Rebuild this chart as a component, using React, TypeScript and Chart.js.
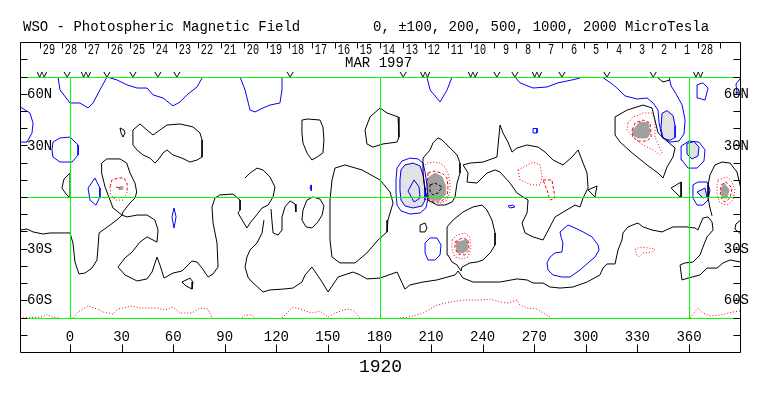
import React, { useEffect, useRef } from 'react';
import { Chart, registerables } from 'chart.js';

Chart.register(...registerables);

type P = [number, number];

// ---------- texts & ticks ----------
const titleLeft = 'WSO - Photospheric Magnetic Field';
const titleRight = '0, \u00b1100, 200, 500, 1000, 2000 MicroTesla';
const rotationLabel = '1920';
const monthLabel = 'MAR 1997';
const monthLon = 179.5;
const lonTicks = [0, 30, 60, 90, 120, 150, 180, 210, 240, 270, 300, 330, 360];
const lonTickLabels = ['0', '30', '60', '90', '120', '150', '180', '210', '240', '270', '300', '330', '360'];
const latTickMarks = [80, 70, 60, 50, 40, 30, 20, 10, 0, -10, -20, -30, -40, -50, -60, -70, -80];
const latLabelValues = [60, 30, -30, -60];
const latLabels = ['60N', '30N', '30S', '60S'];
const dayLabels = ['29', '28', '27', '26', '25', '24', '23', '22', '21', '20', '19', '18', '17', '16', '15', '14', '13', '12', '11', '10', '9', '8', '7', '6', '5', '4', '3', '2', '1', '28'];
const dayTickLons = [-17.7, -4.5, 8.7, 21.9, 35.1, 48.3, 61.5, 74.7, 87.9, 101.1, 114.3, 127.5, 140.7, 153.9, 167.1, 180.3, 193.5, 206.7, 219.9, 233.1, 246.3, 259.5, 272.7, 285.9, 299.1, 312.3, 325.5, 338.7, 351.9, 365.1, 378.3];
const markLabels = ['W', 'V', 'W', 'V', 'V', 'V', 'V', 'V', 'V', 'W', 'W', 'V', 'V', 'W', 'V', 'V', 'V', 'W'];
const markLons = [-16.3, -1.7, 9.3, 21.5, 36.6, 51.2, 62.2, 128, 193.7, 206.5, 234.4, 248.3, 258.8, 271.6, 286.1, 312.3, 339.1, 365.3];
const greenLons = [0, 180, 360];
const greenLats = [70, 0, -70];

// ---------- neutral (zero) contours, black ----------
const k1: P[] = [[-29, -18.9], [-25, -18.3], [-21.5, -20], [-15.7, -21.2], [-11.6, -20.6], [0, -20.6], [1.7, -26.4], [2.9, -37.5], [5.2, -44.4], [8.7, -43.9], [12.8, -41], [15.7, -36.3], [16.3, -28.8], [16.9, -20.6], [23.3, -16], [27.9, -12.5], [30.2, -10.2], [33.2, -11.3], [39, -10.2], [44.8, -10.2], [49.4, -13.1], [51.2, -18.9], [50.6, -25.9], [44.8, -22.9], [40.7, -25.9], [36.1, -31.7], [32, -35.1], [27.9, -40.4], [32, -45], [39, -48.5], [44.8, -47.3], [47.7, -43.3], [50.6, -34.6], [52.3, -39.2], [54.7, -46.8], [59.9, -43.9], [65.1, -42.7], [71, -36.9], [73.9, -37.5], [76.8, -41], [80.3, -46.2], [83.2, -44.4], [86.1, -40.4], [85.5, -26.4], [83.2, -14.8], [82.6, -5.5], [84.3, -0.3], [87.2, 1.5], [94.8, 2], [98.9, -1.5], [98.9, -7.3], [97.7, -9], [102.9, -17.7], [104.7, -14.8], [107.6, -11.3], [111.7, -6.1], [115.2, -4.4], [118.1, 0.3], [119.2, 6.1], [116.3, 11.9], [112.2, 16], [108.8, 17.1], [104.7, 14.2], [101.8, 11.3]];
const k2: P[] = [[112.8, -13.1], [111.7, -20.6], [108.8, -26.4], [104.7, -30.5], [102.9, -34.6], [101.8, -40.4], [103.5, -46.2], [104.7, -47.9], [112.2, -54.9], [116.3, -53.7], [123.9, -53.2], [129.7, -52.6], [134.9, -49.1], [136.7, -45], [140.7, -40.4], [146.6, -49.1], [150.1, -54.9], [155.9, -46.2], [164.6, -43.3], [168.7, -45], [172.7, -47.3], [180.3, -46.8], [190.2, -43.3], [194.8, -53.2], [197.7, -50.8], [205.3, -49.1], [213.4, -47.9], [223.9, -45], [225.7, -42.7], [228.6, -46.8], [234.4, -49.1], [244.3, -49.1], [250.1, -49.1], [260, -47.3], [265.8, -47.9], [269.3, -49.7], [275.1, -49.7], [279.2, -52], [285, -52.6], [292.5, -52], [300.7, -49.1], [308.2, -45], [310, -41], [312.3, -38.6], [317, -38.6], [318.7, -30.5], [321, -24.7], [321.6, -20.6], [324.5, -17.1], [330.3, -14.8], [333.3, -17.1], [338.5, -18.9], [344.3, -20], [350.7, -17.1], [358.8, -17.1], [363.5, -17.7], [365.2, -18.9], [368.1, -11.9], [371.1, -11.3], [373.4, -14.2], [374, -18.9], [370.5, -22.9], [368.1, -28.8], [366.4, -33.4], [362.3, -37.5], [357.7, -38], [354.8, -39.2], [355.9, -47.9], [359.4, -46.8], [366.4, -45], [370.5, -41], [376.3, -41], [379.8, -38], [383.9, -36.3], [390.1, -37.5]];
const k3: P[] = [[390.1, 5.5], [387.9, 14.8], [383.9, 20], [379.2, 20.6], [375.1, 18.9], [372.2, 13.1], [371.1, 7.3], [371.1, -0.3], [372.2, -6.1], [373.4, -10.7]];
const k4: P[] = [[36.6, 39.2], [40.7, 42.7], [44.8, 39.2], [48.3, 36.3], [52.3, 39.2], [56.4, 42.1], [64, 42.7], [71.5, 41], [75.6, 37.5], [76.8, 33.4], [76.8, 23.5], [73.9, 21.8], [69.8, 20.6], [65.1, 22.9], [59.9, 24.7], [56.4, 27.6], [54.1, 25.9], [51.2, 21.8], [49.4, 20], [46.5, 22.9], [42.5, 24.7], [39, 27.6], [36.6, 30.5], [36.6, 35.1]];
const k5: P[] = [[29.1, 40.4], [31.4, 39.2], [32, 37.5], [30.8, 35.1], [29.7, 37.5]];
const k6: P[] = [[0, 14.2], [-3.5, 10.7], [-4.7, 5.5], [-2.3, 2], [0, -0.3]];
const k7: P[] = [[30.2, -10.2], [25, -6.1], [23.3, -1.5], [20.4, 6.1], [18.4, 14.2], [18.4, 20], [21.3, 22.4], [29.1, 22.4], [33, 20], [34.9, 14.2], [37.8, 8.4], [38.8, 3.2], [37.8, -0.3], [34.9, -3.2], [30.8, -8.4]];
const k8: P[] = [[65.1, -49.1], [69.8, -46.8], [71.5, -49.1], [71, -53.2], [67.5, -51.4]];
const k9: P[] = [[134.9, 45], [138.4, 45.6], [145.4, 45], [147.1, 41], [147.7, 33.4], [147.1, 25.9], [143.7, 23.5], [140.7, 21.8], [137.8, 25.9], [135.5, 31.7], [134.9, 37.5]];
const k10: P[] = [[180.3, 52], [184.4, 49.1], [190.8, 46.8], [191.3, 35.1], [190.2, 32.2], [182, 31.1], [176.2, 29.3], [172.7, 31.1], [171.6, 39.2], [174.5, 46.8]];
const k11: P[] = [[151.2, -1.5], [152.4, 10.2], [154.1, 17.1], [159.9, 18.9], [169.8, 16], [180.3, 10.2], [186.1, 3.2], [187.9, -3.2], [184.9, -13.1], [184.4, -20], [179.1, -24.7], [172.7, -32.2], [165.8, -38], [157, -38], [152.4, -34.6], [151.2, -24.7]];
const k12: P[] = [[205.3, 22.9], [209.4, 27.6], [211.1, 31.7], [214, 34.6], [216.4, 33.4], [219.3, 30.5], [222.2, 27.6], [225.1, 24.7], [226.8, 20], [226.8, 14.2], [225.1, 8.4], [223.9, 0.3], [222.2, -2.6], [218.1, -4.4], [213.4, -4.4], [210.5, -2.6], [208.2, -1.5], [206.5, 4.4], [205.9, 8.4], [205.3, 14.2], [205.3, 20]];
const k13: P[] = [[219.3, -17.1], [222.8, -13.1], [228.6, -8.4], [234.4, -5.5], [239.6, -4.4], [242.5, -7.3], [245.4, -13.1], [247.2, -20.6], [247.2, -27.6], [244.3, -32.2], [240.2, -36.3], [236.7, -37.5], [232.6, -38], [228, -40.4], [227.4, -42.7], [225.1, -39.2], [222.2, -37.5], [219.8, -33.4], [219.3, -26.4]];
const k14: P[] = [[203.6, -16], [206.5, -14.8], [207.6, -17.7], [206.5, -20], [203.6, -20]];
const k15: P[] = [[228.6, 18.9], [232.6, 20], [240.2, 20.6], [248.3, 23.5], [250.1, 42.1], [251.8, 37.5], [254.7, 32.2], [257.1, 26.4], [260, 28.8], [265.8, 30.5], [272.2, 29.3], [276.3, 26.4], [280.9, 21.8], [286.7, 18.9], [292, 23.5], [295.5, 27.6], [298.4, 20], [300.7, 14.2], [301.3, 5.5], [298.4, -0.3], [296.6, -5.5], [293.7, -4.4], [282.1, -11.3], [280.3, -14.8], [275.1, -24.7], [269.3, -22.9], [264.6, -20.6], [262.9, -14.8], [265.8, -9], [266.4, -1.5], [260, 2.6], [255.9, 8.4], [250.1, 14.8], [247.2, 16], [242.5, 14.2], [236.7, 8.4], [230.9, 9], [231.5, 14.2]];
const k17: P[] = [[317, 46.8], [324, 50.8], [333.3, 53.7], [338.5, 52], [340.2, 45], [342, 37.5], [347.8, 32.2], [351.9, 28.8], [350.7, 23.5], [347.2, 17.7], [344.9, 11.3], [342, 14.2], [335.6, 18.9], [326.9, 25.9], [319.9, 32.2], [317, 36.3]];
const k18: P[] = [[349.6, 5.5], [355.4, 9], [355.4, -0.3]];
const k19: P[] = [[301.3, 4.4], [306.5, 6.7], [305.3, 0.3]];
const k20: P[] = [[342, 69.4], [344.9, 67.1], [349, 68.3]];
const k22: P[] = [[390.1, -13.1], [387.3, -15.4], [386.7, -18.3], [390.1, -21.2]];
const c1: P[] = [[116.9, -6.7], [117.5, -14.2], [118.1, -20.6], [121, -21.8], [123.3, -18.9], [123.3, -11.3], [125, -5.5], [128, -2], [130.9, -3.8], [131.4, -8.4]];
const c2: P[] = [[135.5, -7.3], [137.8, -1.5], [141.3, 0.3], [145.4, -0.9], [147.7, -4.9], [146.6, -10.2], [144.2, -14.2], [140.7, -17.7], [137.3, -17.1], [134.9, -13.1]];

// ---------- negative contours, blue ----------
const b1: P[] = [[-7, 70], [-5.8, 62.5], [0, 54.9], [5.8, 54.9], [10.5, 52], [13.4, 54.9], [17.4, 62.5], [21.5, 70], [27.3, 68.3], [33.2, 65.4], [39, 63.6], [44.8, 63.6], [48.3, 59.6], [54.1, 57.8], [59.9, 53.2], [64, 55.5], [68, 59.6], [73.9, 64.2], [76.8, 69.4]];
const b2: P[] = [[98.9, 70], [101.8, 62.5], [104.7, 50.8], [107.6, 49.7], [112.2, 52], [116.3, 53.7], [122.1, 54.9], [123.3, 62.5], [123.3, 70]];
const b3: P[] = [[207.6, 70], [209.4, 62.5], [215.2, 55.5], [219.3, 62.5], [222.2, 70]];
const b4: P[] = [[-29, 52.6], [-23.3, 49.1], [-21.5, 43.3], [-22.1, 37.5], [-25, 32.2], [-29, 32.2]];
const b5: P[] = [[-9.9, 32.2], [-5.8, 34.6], [0, 35.1], [4.7, 30.5], [4.7, 24.7], [1.2, 20.6], [-5.8, 20.6], [-9.9, 23.5], [-10.5, 27.6]];
const b6: P[] = [[10.5, 5.5], [14.5, 11.3], [17.4, 5.5], [17.4, 0.3], [15.1, -4.4], [11.6, -1.5]];
const b7: P[] = [[60.5, -6.1], [61.7, -11.3], [60.5, -17.7], [59.3, -11.3]];
const b8: P[] = [[140.2, 7.3], [140.7, 5.5], [140.2, 3.8], [139.6, 5.5]];
const bAr1: P[] = [[189.6, 10.2], [190.2, 17.1], [193.1, 21.2], [197.7, 22.9], [202.4, 22.4], [205.3, 20], [206.5, 14.8], [207.6, 7.3], [208.2, -0.3], [207, -6.1], [203.6, -9], [197.7, -9.6], [192.5, -7.8], [190.2, -4.4], [189.6, 2.6]];
const bAr2: P[] = [[191.9, 10.2], [192.5, 16], [194.8, 18.9], [199.5, 20], [203.6, 18.3], [205.3, 13.1], [206.5, 5.5], [206.5, -1.5], [204.7, -4.9], [199.5, -6.1], [194.8, -4.9], [192.5, -1.5], [191.9, 4.4]];
const bAr3: P[] = [[196.6, 3.8], [200.1, 10.2], [203, 6.1], [203.6, -0.3], [200.1, -2.6]];
const b9: P[] = [[206.5, -26.4], [209.4, -23.5], [213.4, -23.5], [215.8, -27.6], [215.2, -33.4], [212.3, -36.3], [208.2, -36.3], [206.5, -32.2]];
const b10: P[] = [[285, -20], [289.6, -16], [293.7, -17.7], [298.4, -20], [303.6, -22.9], [307.1, -27.6], [307.7, -30.5], [305.3, -34.6], [301.3, -38], [296.6, -42.1], [290.8, -46.2], [286.1, -46.2], [280.9, -45], [278, -42.1], [277.4, -38], [279.2, -34.6], [282.1, -32.2], [286.1, -31.7], [286.7, -26.4], [285.6, -23]];
const b11: P[] = [[269.3, 40.1], [271.6, 40.1], [271.6, 37.5], [269.3, 37.5]];
const b12: P[] = [[254.7, -5], [257.6, -4.4], [258.8, -5.5], [255.9, -6.1]];
const b14: P[] = [[309.4, 70], [315.2, 66], [318.1, 63.6], [322.8, 59], [329.8, 57.2], [335.6, 57.8], [339.1, 54.9], [342, 50.8], [342.6, 43.3], [344.3, 35.1], [349, 32.2], [354.2, 32.8], [357.1, 36.9], [357.7, 45], [356, 53.7], [352.5, 60.1], [349.6, 64.8], [348.4, 70]];
const b15: P[] = [[344.3, 48.8], [347.2, 50.5], [350.7, 47.6], [351.9, 41.8], [351.9, 34.9], [349, 33.2], [344.9, 34.3], [343.7, 40.1]];
const b16: P[] = [[358.8, 31.4], [362.9, 32.5], [365.8, 29.3], [365.2, 24.1], [361.7, 22.4], [358.8, 25.3]];
const b16o: P[] = [[355.4, 29.9], [360, 32.8], [365.8, 32.2], [369.3, 27.6], [368.7, 21.2], [364.7, 17.1], [359.4, 17.1], [355.9, 21.8]];
const b17: P[] = [[364.7, 65.4], [368.1, 66.6], [371.1, 63.6], [369.3, 56.6], [365.2, 57.8], [364.7, 61.3]];
const b18: P[] = [[390.1, 69.4], [387.3, 65.9], [387.9, 61.3], [390.1, 59.6]];
const b19: P[] = [[362.3, 7.3], [365.2, 9], [370.5, 9], [372.2, 4.4], [371.1, -1.5], [368.1, -4.4], [364.7, -4.4], [362.3, -0.3], [362.3, 4.4]];
const b20: P[] = [[364.7, 3.2], [369.3, 5.5], [370.5, 0.3], [368.1, -0.3]];
const b21: P[] = [[258.8, 70], [261.7, 66.6], [269.3, 63.6], [277.4, 64.2], [283.8, 66.6], [292, 68.3], [296.6, 69.4]];

// ---------- positive contours, red ----------
const rPolarA: P[] = [[-29, -70], [-15.7, -69.4], [-13.4, -67.7], [-10.5, -69.4], [-5.8, -70]];
const rPolarB: P[] = [[1.7, -70], [4.7, -66.5], [10.5, -63], [15.7, -64.8], [19.2, -66.5], [25, -67.7], [27.9, -64.8], [36.1, -63], [40.7, -64.2], [50.6, -64.2], [55.3, -65.4], [59.9, -63.6], [64, -67.1], [71, -67.1], [75.6, -64.2], [80.3, -64.8], [82.6, -70]];
const rPolarC: P[] = [[100, -70], [101.8, -68.3], [105.9, -68.3], [107.6, -70]];
const rPolarD: P[] = [[123.3, -70], [129.7, -63.6], [135.5, -65.4], [140.7, -67.1], [145.4, -66], [150.1, -69.4], [154.1, -67.1], [161.1, -64.8], [164.6, -65.4], [168.7, -70]];
const rPolarE: P[] = [[191.9, -70], [197.7, -69.4], [205.3, -67.1], [213.4, -62.5], [221, -60.7], [228.6, -59.6], [238.5, -59.6], [244.3, -59], [250.1, -60.7], [254.2, -61.3], [260, -59.6], [261.7, -62.5], [265.8, -64.2], [271.6, -64.8], [275.1, -67.1], [280.3, -70]];
const rPolarF: P[] = [[360.6, -70], [365.2, -64.2], [368.1, -67.1], [372.2, -68.8], [378.1, -68.3], [385.6, -66.5], [390.1, -65.9]];
const rLeftDash: P[] = [[23.3, 6.1], [24.4, 10.2], [27.9, 11.3], [31.4, 11.3], [33.2, 8.4], [33.2, 3.2]];
const rLeftDot: P[] = [[33.2, 3.2], [30.8, -1.5], [26.7, -1.5], [23.8, 1.5], [23.3, 6.1]];
const rLeftTick: P[] = [[26.7, 6.1], [29.1, 5.5]];
const rArDot: P[] = [[205.3, 17.7], [207.6, 20], [211.1, 20.6], [215.2, 20], [218.1, 17.7], [219.8, 14.2], [221, 8.4], [221, 3.2], [219.3, -1.5], [215.2, -3.2], [210.5, -3.2], [207.6, -1.5], [206.5, 2.6], [205.9, 10.2]];
const rArDash: P[] = [[208.2, 14.2], [211.1, 15.4], [216.4, 14.2], [219.3, 11.3], [219.8, 6.1], [219.3, 0.3], [215.2, -2.6], [211.1, -2.6], [208.2, -0.3], [207.6, 5.5]];
const kArInner: P[] = [[209.4, 7.3], [212.3, 8.4], [216.4, 6.1], [214, 2.6], [211.1, 1.5], [209.4, 3.2]];
const rLowDot: P[] = [[222.2, -24.7], [225.1, -21.8], [229.7, -20.6], [232.6, -23], [233.2, -29.3], [231.5, -34.6], [228, -35.7], [223.9, -34.6], [222.2, -30.5]];
const rLowDash: P[] = [[223.9, -25.9], [228, -23.5], [231.5, -24.7], [232.1, -30.5], [229.7, -33.4], [225.7, -32.8], [223.9, -29.3]];
const rNeDot: P[] = [[324.5, 43.3], [327.4, 46.8], [333.3, 49.1], [338.5, 49.1], [340.2, 45], [340.2, 35.1], [344.3, 25.9], [343.1, 24.7], [339.1, 27.6], [333.3, 30.5], [327.4, 35.1], [323.9, 39.2]];
const rNeDash: P[] = [[326.9, 39.2], [328.6, 43.3], [333.3, 45], [337.4, 43.3], [338, 35.1], [335.6, 32.8], [330.3, 32.8], [327.4, 35.1]];
const rSeDot: P[] = [[376.9, 10.2], [382.1, 11.9], [385, 9], [386.7, 4.4], [385.6, -1.5], [382.1, -4.4], [378.1, -3.2], [376.3, 1.5], [376.3, 7.3]];
const rSeDash: P[] = [[378.6, 7.3], [381.5, 9], [385, 5.5], [383.9, -0.3], [381, -2.6], [378.1, 0.3]];
const rMidDot: P[] = [[260.6, 16], [269.3, 20.6], [273.4, 18.9], [274.5, 11.9], [273.4, 7.3], [268.7, 7.3], [261.7, 10.2]];
const rMidDash: P[] = [[275.1, 10.2], [280.3, 10.2], [282.1, -0.3], [279.2, -1.5], [277.4, 4.4]];
const rSouthDot: P[] = [[328.6, -30.2], [331.5, -28.8], [336.2, -29.3], [340.2, -30], [338.5, -31.7], [333.3, -32.2], [331, -34.6], [329.8, -33.4]];

// ---------- shaded cores ----------
const gLeft: P[] = [[28.5, 6], [30.5, 6.5], [31, 5], [29, 4.5]];
const gAr: P[] = [[208.2, 11.3], [212.3, 14.2], [216.4, 11.9], [218.1, 7.3], [218.1, 1.5], [215.2, -1.5], [211.1, -2], [208.2, 0.3], [207.6, 5.5]];
const gLow: P[] = [[224.5, -25.9], [230.9, -24.7], [230.9, -30.5], [228.6, -32.2], [225.1, -31.7]];
const gNe: P[] = [[327.4, 39.2], [331.5, 43.9], [336.2, 43.3], [337.4, 37.5], [335.6, 34.6], [330.3, 34.6], [327.4, 36.3]];
const gSe: P[] = [[378.6, 4.4], [380.4, 8.4], [383.3, 4.4], [382.1, -0.3], [379.2, -0.3]];

const BLACK = '#000000';
const BLUE = '#0000ff';
const RED = '#ff0000';
const GREEN = '#00ff00';
const DARK = '#a0a0a0';
const LIGHT = '#e2e2e2';
const DOT = [1, 2];
const DASH = [3, 2];

const blackOpen = [k1, k2, k3, k20, k22, c1];
const blackClosed = [k4, k5, k6, k7, k8, k9, k10, k11, k12, k13, k14, k15, k17, k18, k19, c2];
const blueOpen = [b1, b2, b3, b4, b14, b18, b21];
const blueClosed = [b5, b6, b7, b8, bAr1, bAr2, bAr3, b9, b10, b11, b12, b15, b16, b16o, b17, b19, b20];
const redDotOpen = [rPolarA, rPolarB, rPolarC, rPolarD, rPolarE, rPolarF, rLeftDot];
const redDotClosed = [rArDot, rLowDot, rNeDot, rSeDot, rMidDot, rSouthDot];
const redDashOpen = [rLeftDash];
const redDashClosed = [rArDash, rLowDash, rNeDash, rSeDash, rMidDash];
const darkFills = [gLeft, gAr, gLow, gNe, gSe];
const lightFills = [bAr2, b15, b16, b20];

const toXY = (pts: P[], closed: boolean) => (closed ? [...pts, pts[0]] : pts).map(([x, y]) => ({ x, y }));

function lineSet(pts: P[], color: string, dash: number[], closed: boolean) {
  return {
    data: toXY(pts, closed),
    borderColor: color,
    backgroundColor: color,
    borderWidth: 1,
    borderDash: dash,
    pointRadius: 0,
    pointHoverRadius: 0,
    fill: false,
    tension: 0,
    order: 0,
  };
}

function fillSet(pts: P[], color: string) {
  return {
    data: toXY(pts, true),
    borderColor: color,
    backgroundColor: color,
    borderWidth: 1,
    pointRadius: 0,
    pointHoverRadius: 0,
    fill: 'shape',
    tension: 0,
    order: 10,
  };
}

function buildDatasets() {
  const ds: any[] = [];
  lightFills.forEach((p) => ds.push(fillSet(p, LIGHT)));
  darkFills.forEach((p) => ds.push(fillSet(p, DARK)));
  blackOpen.forEach((p) => ds.push(lineSet(p, BLACK, [], false)));
  blackClosed.forEach((p) => ds.push(lineSet(p, BLACK, [], true)));
  blueOpen.forEach((p) => ds.push(lineSet(p, BLUE, [], false)));
  blueClosed.forEach((p) => ds.push(lineSet(p, BLUE, [], true)));
  redDotOpen.forEach((p) => ds.push(lineSet(p, RED, DOT, false)));
  redDotClosed.forEach((p) => ds.push(lineSet(p, RED, DOT, true)));
  redDashOpen.forEach((p) => ds.push(lineSet(p, RED, DASH, false)));
  redDashClosed.forEach((p) => ds.push(lineSet(p, RED, DASH, true)));
  ds.push(lineSet(rLeftTick, RED, [], false));
  ds.push(lineSet(kArInner, BLACK, DASH, true));
  return ds;
}

const MONO = '"Liberation Mono", "DejaVu Sans Mono", monospace';

function drawGreen(chart: any) {
  const { ctx, chartArea: a, scales } = chart;
  const x = scales.x;
  const y = scales.y;
  ctx.save();
  ctx.strokeStyle = GREEN;
  ctx.lineWidth = 1;
  ctx.setLineDash([]);
  const top = Math.floor(y.getPixelForValue(70)) + 0.5;
  const bot = Math.floor(y.getPixelForValue(-70)) + 0.5;
  greenLats.forEach((lat) => {
    const py = Math.floor(y.getPixelForValue(lat)) + 0.5;
    ctx.beginPath();
    ctx.moveTo(a.left, py);
    ctx.lineTo(a.right, py);
    ctx.stroke();
  });
  greenLons.forEach((lon) => {
    const px = Math.round(x.getPixelForValue(lon)) + 0.5;
    ctx.beginPath();
    ctx.moveTo(px, top);
    ctx.lineTo(px, bot);
    ctx.stroke();
  });
  ctx.restore();
}

const decorPlugin = {
  id: 'decor',
  afterDatasetsDraw(chart: any) {
    drawGreen(chart);
  },
  afterDraw(chart: any) {
    const { ctx, chartArea: a, scales } = chart;
    const x = scales.x;
    const y = scales.y;
    const top = Math.floor(y.getPixelForValue(90)) + 0.5;
    const bottom = Math.floor(y.getPixelForValue(-90)) + 0.5;
    const left = a.left + 0.5;
    const right = a.right - 0.5;
    ctx.save();
    ctx.strokeStyle = BLACK;
    ctx.lineWidth = 1;
    ctx.setLineDash([]);
    ctx.beginPath();
    ctx.rect(left, top, right - left, bottom - top);
    latTickMarks.forEach((lat) => {
      const py = Math.floor(y.getPixelForValue(lat)) + 0.5;
      ctx.moveTo(left, py);
      ctx.lineTo(left + 7, py);
      ctx.moveTo(right - 7, py);
      ctx.lineTo(right, py);
    });
    lonTicks.forEach((lon) => {
      const px = Math.round(x.getPixelForValue(lon)) + 0.5;
      ctx.moveTo(px, bottom - 8);
      ctx.lineTo(px, bottom);
    });
    dayTickLons.forEach((lon) => {
      const px = Math.round(x.getPixelForValue(lon)) + 0.5;
      ctx.moveTo(px, top);
      ctx.lineTo(px, top + 6);
    });
    ctx.stroke();

    ctx.fillStyle = BLACK;
    ctx.textBaseline = 'alphabetic';
    ctx.font = '14px ' + MONO;
    ctx.textAlign = 'left';
    ctx.fillText(titleLeft, 23, 31);
    ctx.fillText(titleRight, 373, 31);

    ctx.textAlign = 'center';
    ctx.fillText(monthLabel, x.getPixelForValue(monthLon), 67);

    ctx.font = '15px ' + MONO;
    ctx.textAlign = 'right';
    dayLabels.forEach((lab, i) => {
      const px = Math.round(x.getPixelForValue(dayTickLons[i]));
      ctx.save();
      ctx.translate(px + 15, 54);
      ctx.scale(0.68, 1);
      ctx.fillText(lab, 0, 0);
      ctx.restore();
    });

    ctx.font = '11px "Liberation Sans", Arial, sans-serif';
    ctx.textAlign = 'center';
    const markBase = Math.floor(y.getPixelForValue(70)) - 0.5;
    markLabels.forEach((lab, i) => {
      ctx.save();
      ctx.translate(x.getPixelForValue(markLons[i]), markBase);
      ctx.scale(1, 0.62);
      ctx.fillText(lab, 0, 0);
      ctx.restore();
    });
    ctx.restore();
  },
};

export default function App() {
  const ref = useRef<HTMLCanvasElement | null>(null);
  useEffect(() => {
    const canvas = ref.current;
    if (!canvas) return;
    Chart.defaults.font.family = MONO;
    const tickFont = { family: MONO, size: 14 };
    const noGrid = { display: false, drawTicks: false, tickLength: 0, drawOnChartArea: false };
    const chart = new Chart(canvas, {
      type: 'line',
      data: { datasets: buildDatasets() },
      options: {
        animation: false,
        responsive: false,
        devicePixelRatio: 1,
        events: [],
        layout: { padding: { left: 6, right: 6, top: 77, bottom: 18.4 } },
        plugins: {
          legend: { display: false },
          tooltip: { enabled: false },
          title: { display: false },
        },
        scales: {
          x: {
            type: 'linear',
            position: 'bottom',
            min: -29.08,
            max: 390.24,
            bounds: 'data',
            grid: noGrid,
            border: { display: false },
            afterBuildTicks: (s: any) => {
              s.ticks = lonTicks.map((v) => ({ value: v }));
            },
            ticks: {
              autoSkip: false,
              maxRotation: 0,
              minRotation: 0,
              padding: 10.6,
              color: BLACK,
              font: tickFont,
              callback: (_v: any, i: number) => lonTickLabels[i],
            },
            title: {
              display: true,
              text: rotationLabel,
              color: BLACK,
              font: { family: MONO, size: 18 },
              padding: { top: 0, bottom: 0 },
            },
          },
          y: {
            type: 'linear',
            position: 'left',
            min: -70,
            max: 70,
            bounds: 'data',
            grid: noGrid,
            border: { display: false },
            afterBuildTicks: (s: any) => {
              s.ticks = latLabelValues.map((v) => ({ value: v }));
            },
            ticks: {
              mirror: true,
              padding: 7,
              color: BLACK,
              font: tickFont,
              callback: (v: any) => latLabels[latLabelValues.indexOf(Number(v))],
            },
          },
          y2: {
            type: 'linear',
            position: 'right',
            min: -70,
            max: 70,
            bounds: 'data',
            grid: noGrid,
            border: { display: false },
            afterBuildTicks: (s: any) => {
              s.ticks = latLabelValues.map((v) => ({ value: v }));
            },
            ticks: {
              mirror: true,
              padding: 8,
              color: BLACK,
              font: tickFont,
              callback: (v: any) => latLabels[latLabelValues.indexOf(Number(v))],
            },
          },
        },
      } as any,
      plugins: [decorPlugin as any],
    });
    return () => chart.destroy();
  }, []);
  return (
    <div style={{ position: 'absolute', left: 0, top: 0, width: 763, height: 396, background: '#ffffff' }}>
      <canvas ref={ref} width={763} height={396} style={{ display: 'block', width: 763, height: 396 }} />
    </div>
  );
}
